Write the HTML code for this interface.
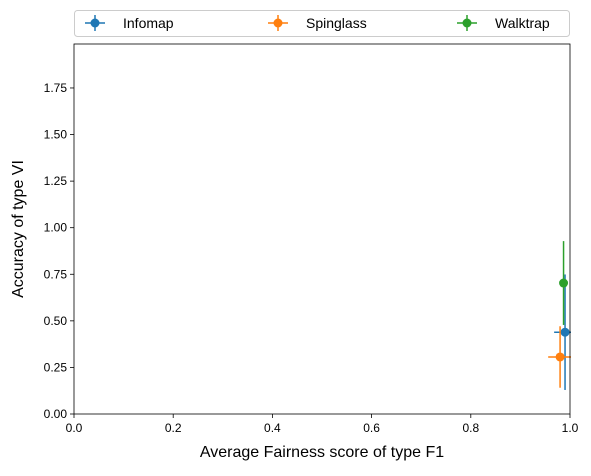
<!DOCTYPE html>
<html><head><meta charset="utf-8"><style>
body{margin:0;background:#fff;font-family:"Liberation Sans",sans-serif}
</style></head><body>
<svg id="c" width="591" height="471" xmlns="http://www.w3.org/2000/svg"></svg>
<script>
const series=["Infomap","Spinglass","Walktrap"];
const colors=["#1f77b4","#ff7f0e","#2ca02c"];
const xVals=[0.990,0.980,0.987];
const yVals=[0.439,0.306,0.703];
const xErr=[0.022,0.024,0.005];
const yErr=[0.31,0.165,0.225];
const xTicks=[0,0.2,0.4,0.6,0.8,1.0];
const xTickLabels=["0.0","0.2","0.4","0.6","0.8","1.0"];
const yTicks=[0,0.25,0.5,0.75,1.0,1.25,1.5,1.75];
const yTickLabels=["0.00","0.25","0.50","0.75","1.00","1.25","1.50","1.75"];
const L=74,R=570,T=44,B=414,yMax=1.986;
const sx=v=>L+v*(R-L);
const sy=v=>B-v/yMax*(B-T);
const svg=document.getElementById('c');
const NS="http://www.w3.org/2000/svg";
function mk(t,a,p){const e=document.createElementNS(NS,t);for(const k in a)e.setAttribute(k,a[k]);(p||svg).appendChild(e);return e;}
const axes=mk('g',{});


xTicks.forEach((v,i)=>{
  const x=sx(v);
  mk('line',{x1:x,x2:x,y1:B,y2:B+4,stroke:'#000','stroke-width':0.8},axes);
  const t=mk('text',{x:x,y:B+18,'text-anchor':'middle','font-size':12},axes);
  t.textContent=xTickLabels[i];
  
  
});
yTicks.forEach((v,i)=>{
  const y=sy(v);
  mk('line',{x1:L-4,x2:L,y1:y,y2:y,stroke:'#000','stroke-width':0.8},axes);
  const t=mk('text',{x:L-7,y:y+4,'text-anchor':'end','font-size':12},axes);
  t.textContent=yTickLabels[i];
  
  
});
series.forEach((s,i)=>{
  const g=mk('g',{});
  
  
  const x=sx(xVals[i]),y=sy(yVals[i]);
  mk('line',{x1:sx(xVals[i]-xErr[i]),x2:Math.min(sx(xVals[i]+xErr[i]),R+1),y1:y,y2:y,stroke:colors[i],'stroke-width':1.5},g);
  mk('line',{x1:x,x2:x,y1:sy(yVals[i]-yErr[i]),y2:sy(yVals[i]+yErr[i]),stroke:colors[i],'stroke-width':1.5},g);
  const c=mk('circle',{cx:x,cy:y,r:4.5,fill:colors[i]},g);
  
  
});
const frame=mk('rect',{x:L,y:T,width:R-L,height:B-T,fill:'none',stroke:'#000','stroke-width':0.8});


const xl=mk('text',{x:(L+R)/2,y:457,'text-anchor':'middle','font-size':16});
xl.textContent='Average Fairness score of type F1';


const yl=mk('text',{x:0,y:0,'text-anchor':'middle','font-size':16,transform:`translate(23,${(T+B)/2}) rotate(-90)`});
yl.textContent='Accuracy of type VI';


const lg=mk('g',{});


mk('rect',{x:74.5,y:10.5,width:495,height:26,rx:3,fill:'#fff',stroke:'#ccc'},lg);
const lx=[95,278,467];
series.forEach((s,i)=>{
  const e=mk('g',{},lg);
  
  
  mk('line',{x1:lx[i]-10,x2:lx[i]+10,y1:23,y2:23,stroke:colors[i],'stroke-width':1.5},e);
  mk('line',{x1:lx[i],x2:lx[i],y1:15,y2:31,stroke:colors[i],'stroke-width':1.5},e);
  mk('circle',{cx:lx[i],cy:23,r:4.5,fill:colors[i]},e);
  const t=mk('text',{x:lx[i]+28,y:28,'font-size':14},e);
  t.textContent=s;
});
</script>
</body></html>
